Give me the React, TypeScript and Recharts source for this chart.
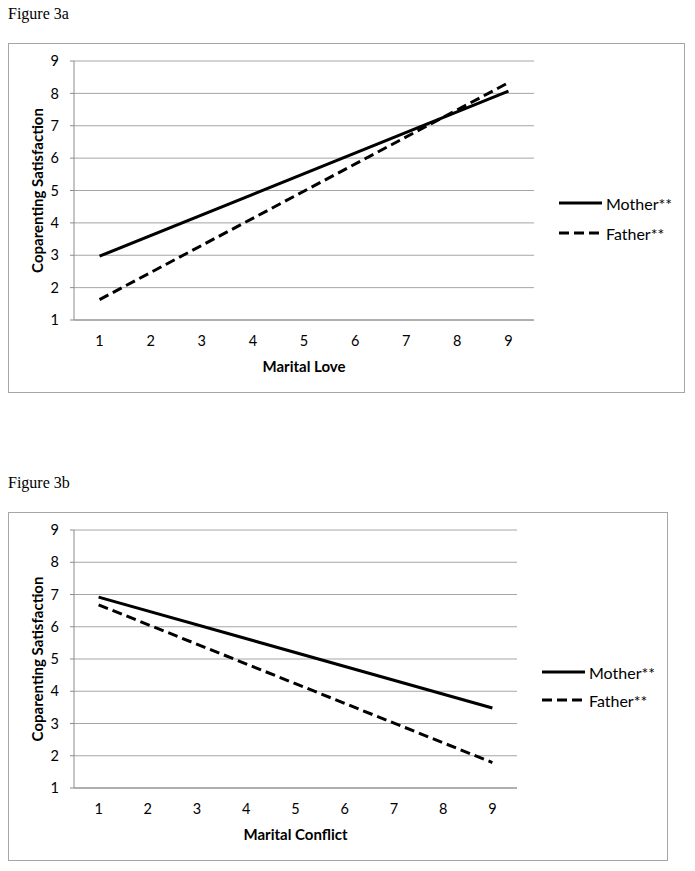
import React from 'react';
import { LineChart, Line, XAxis, YAxis, CartesianGrid, Legend, Label } from 'recharts';

const categories = ['1', '2', '3', '4', '5', '6', '7', '8', '9'];
const yTicks = [1, 2, 3, 4, 5, 6, 7, 8, 9];
const seriesNames = ['Mother**', 'Father**'];

// Figure 3a – Marital Love (values read at the ends of each straight line)
const loveMother = [2.97, null, null, null, null, null, null, null, 8.07];
const loveFather = [1.63, null, null, null, null, null, null, null, 8.33];

// Figure 3b – Marital Conflict
const conflictMother = [6.92, null, null, null, null, null, null, null, 3.48];
const conflictFather = [6.68, null, null, null, null, null, null, null, 1.79];

const FONT = "Lato, 'Open Sans', sans-serif";
const GRID = '#a6a6a6';
const AXIS = '#8c8c8c';

function buildData(m: (number | null)[], f: (number | null)[]) {
  return categories.map((c, i) => ({ cat: c, mother: m[i], father: f[i] }));
}

const makeLegend = (rowH: number) => (props: any) => {
  const payload = [...(props.payload || [])].sort(
    (a: any, b: any) => seriesNames.indexOf(a.value) - seriesNames.indexOf(b.value)
  );
  return (
    <div style={{ width: 130, fontFamily: FONT, fontSize: 16, color: '#000' }}>
      {payload.map((p: any) => (
        <div key={p.value} style={{ display: 'flex', alignItems: 'center', height: rowH }}>
          <svg width={43} height={6} style={{ display: 'block' }}>
            <line
              x1={0}
              y1={3}
              x2={43}
              y2={3}
              stroke="#000"
              strokeWidth={3}
              strokeDasharray={p.dataKey === 'father' ? '10 5' : undefined}
            />
          </svg>
          <span style={{ marginLeft: 4 }}>{p.value}</span>
        </div>
      ))}
    </div>
  );
};

type PanelProps = {
  title: string;
  titleTop: number;
  boxTop: number;
  boxWidth: number;
  boxHeight: number;
  data: any[];
  xTitle: string;
  legendLeft: number;
  legendTop: number;
  rowH: number;
};

function Panel(p: PanelProps) {
  const w = p.boxWidth - 2;
  const h = p.boxHeight - 2;
  return (
    <>
      <div
        style={{
          position: 'absolute',
          left: 8,
          top: p.titleTop,
          fontFamily: "'Liberation Serif', 'Times New Roman', serif",
          fontSize: 16,
          lineHeight: '18px',
          color: '#000',
        }}
      >
        {p.title}
      </div>
      <div
        style={{
          position: 'absolute',
          left: 8,
          top: p.boxTop,
          width: w,
          height: h,
          border: `1px solid ${GRID}`,
          background: '#fff',
        }}
      >
        <LineChart
          width={w}
          height={h}
          data={p.data}
          margin={{ top: 17, right: 20, bottom: 20, left: 0 }}
        >
          <CartesianGrid vertical={false} stroke={GRID} strokeWidth={1} />
          <XAxis
            dataKey="cat"
            scale="band"
            height={52}
            axisLine={{ stroke: AXIS }}
            tickLine={false}
            tickSize={0}
            tickMargin={16}
            tick={{ fontFamily: FONT, fontSize: 14.5, fill: '#000' }}
            interval={0}
          >
            <Label
              value={p.xTitle}
              position="insideBottom"
              offset={0}
              style={{ fontFamily: FONT, fontSize: 15, fontWeight: 700, fill: '#000' }}
            />
          </XAxis>
          <YAxis
            type="number"
            domain={[1, 9]}
            ticks={yTicks}
            width={65}
            axisLine={{ stroke: AXIS }}
            tickLine={{ stroke: AXIS }}
            tickSize={4}
            tickMargin={11}
            tick={{ fontFamily: FONT, fontSize: 14.5, fill: '#000' }}
            interval={0}
          >
            <Label
              value="Coparenting Satisfaction"
              angle={-90}
              position="insideLeft"
              offset={29}
              style={{ fontFamily: FONT, fontSize: 15, fontWeight: 700, fill: '#000', textAnchor: 'middle' }}
            />
          </YAxis>
          <Legend
            layout="vertical"
            align="right"
            verticalAlign="middle"
            width={130}
            wrapperStyle={{ left: p.legendLeft, top: p.legendTop, width: 130 }}
            content={makeLegend(p.rowH)}
          />
          <Line
            type="linear"
            dataKey="mother"
            name={seriesNames[0]}
            stroke="#000"
            strokeWidth={3}
            dot={false}
            activeDot={false}
            connectNulls
            isAnimationActive={false}
          />
          <Line
            type="linear"
            dataKey="father"
            name={seriesNames[1]}
            stroke="#000"
            strokeWidth={3}
            strokeDasharray="10 5"
            dot={false}
            activeDot={false}
            connectNulls
            isAnimationActive={false}
          />
        </LineChart>
      </div>
    </>
  );
}

export default function App() {
  return (
    <div style={{ position: 'absolute', left: 0, top: 0, width: 695, height: 871, background: '#fff' }}>
      <Panel
        title="Figure 3a"
        titleTop={5}
        boxTop={43}
        boxWidth={677}
        boxHeight={350}
        data={buildData(loveMother, loveFather)}
        xTitle="Marital Love"
        legendLeft={550}
        legendTop={144}
        rowH={30}
      />
      <Panel
        title="Figure 3b"
        titleTop={474}
        boxTop={512}
        boxWidth={660}
        boxHeight={349}
        data={buildData(conflictMother, conflictFather)}
        xTitle="Marital Conflict"
        legendLeft={533}
        legendTop={145}
        rowH={28}
      />
    </div>
  );
}
